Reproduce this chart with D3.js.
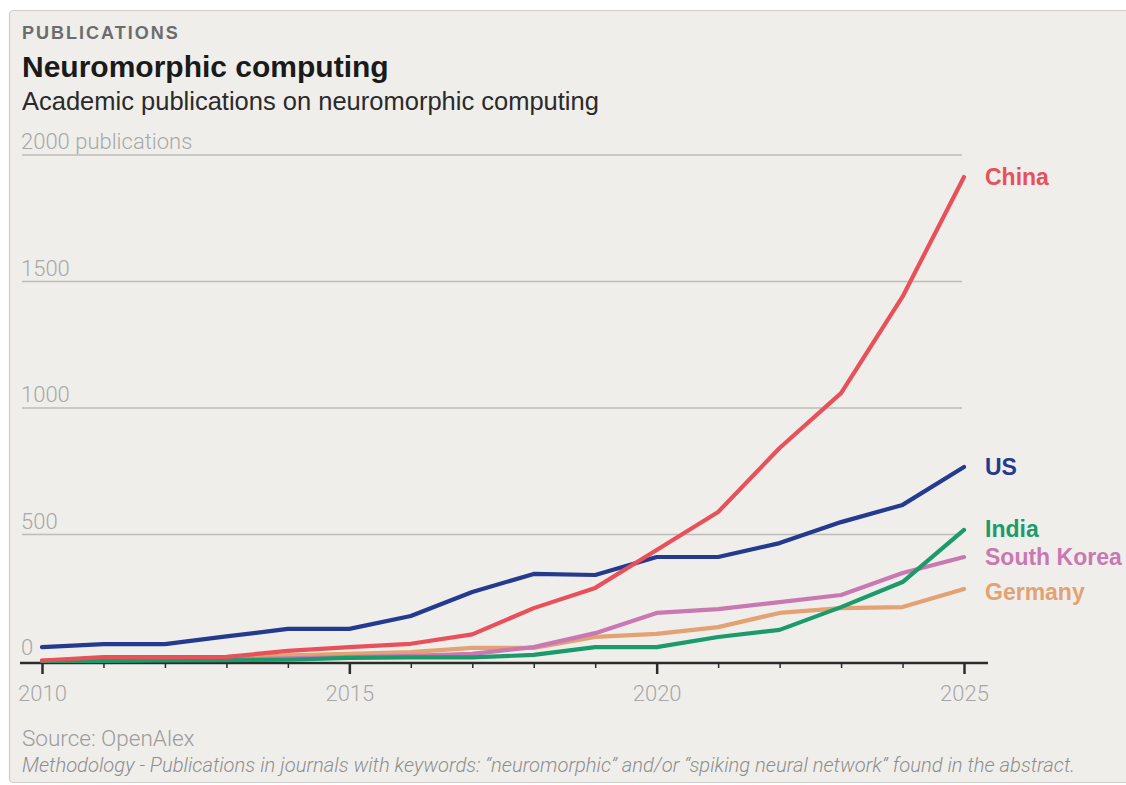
<!DOCTYPE html>
<html>
<head>
<meta charset="utf-8">
<script src="https://cdn.jsdelivr.net/npm/d3@7"></script>
<style>
  html, body { margin: 0; padding: 0; background: #ffffff; }
  svg { display: block; }
</style>
</head>
<body>
<svg id="chart" width="1126" height="785"></svg>
<script>
// Publication counts per year, 2010–2025
const years = [2010, 2011, 2012, 2013, 2014, 2015, 2016, 2017, 2018, 2019, 2020, 2021, 2022, 2023, 2024, 2025];
const china      = [2, 15, 15, 16, 40, 55, 68, 105, 209, 289, 439, 589, 842, 1059, 1440, 1913];
const us         = [55, 67, 67, 97, 127, 127, 178, 273, 344, 340, 411, 411, 466, 549, 617, 767];
const india      = [0, 0, 2, 3, 5, 12, 14, 14, 24, 55, 55, 95, 123, 213, 312, 518];
const southKorea = [0, 5, 5, 5, 10, 15, 20, 28, 55, 110, 190, 205, 233, 261, 348, 411];
const germany    = [2, 8, 10, 12, 22, 28, 35, 52, 52, 95, 107, 134, 190, 209, 213, 285];

const seriesNames  = ["Germany", "South Korea", "India", "US", "China"];
const seriesValues = [germany, southKorea, india, us, china];
const seriesColors = ["#e2a273", "#c978b1", "#1b9b6b", "#243a8e", "#e8505a"];
const labelOffsets = { "China": 0, "US": 0, "India": -1, "South Korea": 0, "Germany": 3 };

const yTicks = [0, 500, 1000, 1500, 2000];
const yTickLabels = ["0", "500", "1000", "1500", "2000 publications"];
const xLabelYears = [2010, 2015, 2020, 2025];

const svg = d3.select("#chart");
const W = 1126, H = 785;

// Panel background
svg.append("rect").attr("x", 9.5).attr("y", 10.5).attr("width", W).attr("height", 772)
  .attr("rx", 4).attr("fill", "#efeeeb").attr("stroke", "#cfcecb").attr("stroke-width", 1.2);

const sans = "'Liberation Sans', Arial, sans-serif";
const thin = "Roboto, 'Liberation Sans', sans-serif";

// Header
svg.append("text").attr("x", 22).attr("y", 39).text("PUBLICATIONS")
  .attr("font-family", sans).attr("font-weight", "bold").attr("font-size", 18)
  .attr("letter-spacing", 2).attr("fill", "#6c6c6c");
svg.append("text").attr("x", 22).attr("y", 77).text("Neuromorphic computing")
  .attr("font-family", sans).attr("font-weight", "bold").attr("font-size", 30).attr("fill", "#1a1a1a");
svg.append("text").attr("x", 22).attr("y", 110).text("Academic publications on neuromorphic computing")
  .attr("font-family", sans).attr("font-size", 25.5).attr("fill", "#2a2a2a");

// Scales
const x = d3.scaleLinear().domain([2010, 2025]).range([42, 964]);
const y = d3.scaleLinear().domain([0, 2000]).range([661, 155]);

// Gridlines and y labels
const grid = svg.append("g");
yTicks.forEach((t, i) => {
  if (t > 0) {
    grid.append("line").attr("x1", 22).attr("x2", 962).attr("y1", y(t)).attr("y2", y(t))
      .attr("stroke", "#bdbcb9").attr("stroke-width", 1.5);
  }
  grid.append("text").attr("x", 21).attr("y", y(t) - 6).text(yTickLabels[i])
    .attr("font-family", thin).attr("font-weight", 300).attr("font-size", 22)
    .attr("fill", "#a8a8a8");
});

// X axis
const xAxis = d3.axisBottom(x)
  .tickValues(years)
  .tickSize(0)
  .tickFormat("");
const axisG = svg.append("g").attr("transform", "translate(0,663)").call(xAxis);
axisG.select(".domain").remove();
axisG.append("line").attr("x1", 20).attr("x2", 988).attr("y1", 0).attr("y2", 0)
  .attr("stroke", "#2b2b2b").attr("stroke-width", 2.5);
axisG.selectAll(".tick").append("line")
  .attr("y1", 0)
  .attr("y2", d => xLabelYears.includes(d) ? 11 : 5)
  .attr("stroke", "#2b2b2b").attr("stroke-width", d => xLabelYears.includes(d) ? 2.5 : 1.5);
axisG.selectAll(".tick").filter(d => xLabelYears.includes(d)).append("text")
  .attr("y", 38).attr("text-anchor", "middle").text(d => d)
  .attr("font-family", thin).attr("font-weight", 300).attr("font-size", 22).attr("fill", "#a8a8a8");

// Lines
const line = d3.line().x((d, i) => x(years[i])).y(d => y(d));
seriesValues.forEach((vals, k) => {
  svg.append("path").datum(vals).attr("d", line)
    .attr("fill", "none").attr("stroke", seriesColors[k]).attr("stroke-width", 4.2)
    .attr("stroke-linejoin", "round").attr("stroke-linecap", "round");
});

// End labels
seriesValues.forEach((vals, k) => {
  const name = seriesNames[k];
  svg.append("text").attr("x", 985).attr("y", y(vals[vals.length - 1]) + 8 + labelOffsets[name])
    .text(name).attr("font-family", sans).attr("font-weight", "bold").attr("font-size", 23)
    .attr("fill", seriesColors[k]);
});

// Footer
svg.append("text").attr("x", 22).attr("y", 746).text("Source: OpenAlex")
  .attr("font-family", thin).attr("font-weight", 300).attr("font-size", 22.5).attr("fill", "#9c9c9c");
svg.append("text").attr("x", 22).attr("y", 772)
  .text("Methodology - Publications in journals with keywords: \u201cneuromorphic\u201d and/or \u201cspiking neural network\u201d found in the abstract.")
  .attr("font-family", thin).attr("font-weight", 300).attr("font-style", "italic").attr("font-size", 20.2)
  .attr("fill", "#8e8e8e");
</script>
</body>
</html>
